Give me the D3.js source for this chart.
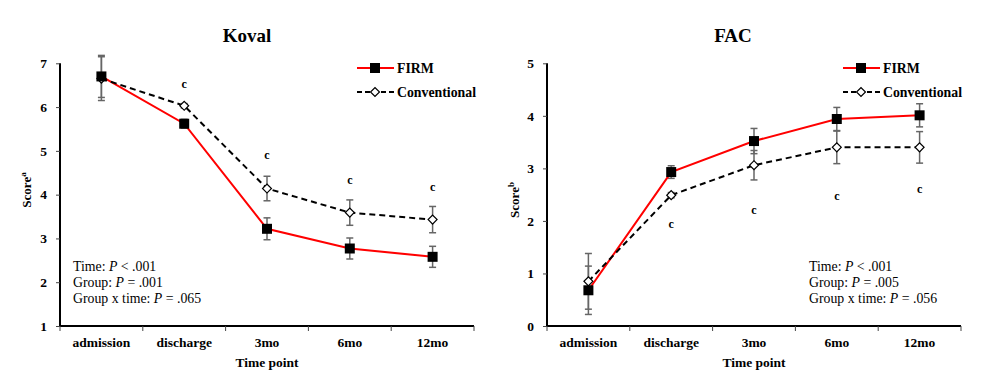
<!DOCTYPE html>
<html><head><meta charset="utf-8">
<script src="https://cdn.jsdelivr.net/npm/d3@7"></script>
<style>body{margin:0;background:#fff}svg{display:block}text{font-family:"Liberation Serif","Times New Roman",serif}</style>
</head><body><svg id="c" width="982" height="384"></svg>
<script>
const categories = ["admission","discharge","3mo","6mo","12mo"];
const kovalFirm = [6.70, 5.62, 3.22, 2.77, 2.58];
const kovalFirmErr = [0.48, 0.10, 0.25, 0.24, 0.24];
const kovalConv = [6.65, 6.03, 4.14, 3.59, 3.43];
const kovalConvErr = [0.50, 0.05, 0.28, 0.29, 0.30];
const kovalSigY = [null, 6.52, 4.90, 4.33, 4.18];
const kovalTicks = [1,2,3,4,5,6,7];
const kovalStats = [["Time: ","P"," < .001"],["Group: ","P"," = .001"],["Group x time: ","P"," = .065"]];

const facFirm = [0.68, 2.93, 3.52, 3.94, 4.01];
const facFirmErr = [0.46, 0.12, 0.24, 0.22, 0.22];
const facConv = [0.85, 2.49, 3.06, 3.40, 3.40];
const facConvErr = [0.53, 0.05, 0.28, 0.31, 0.30];
const facSigY = [null, 1.93, 2.21, 2.48, 2.60];
const facTicks = [0,1,2,3,4,5];
const facStats = [["Time: ","P"," < .001"],["Group: ","P"," = .005"],["Group x time: ","P"," = .056"]];

const svg = d3.select("#c");

function panel(o){
  const g = svg.append("g");
  const x = d3.scaleBand().domain(categories).range([o.x0, o.x1]);
  const y = d3.scaleLinear().domain(o.domain).range([326, 63.3]);
  g.append("text").attr("x", o.titleX).attr("y", 42).attr("text-anchor","middle")
   .attr("font-size",19).attr("font-weight","bold").text(o.title);
  const ya = g.append("g").attr("transform",`translate(${o.x0},0)`)
    .call(d3.axisLeft(y).tickValues(o.ticks).tickSize(4).tickPadding(9).tickFormat(d3.format("d")));
  ya.select(".domain").attr("stroke","#000").attr("stroke-width",2).attr("d",`M0,${y(o.domain[0])}V${y(o.domain[1])}`);
  ya.selectAll(".tick line").attr("stroke","#444");
  ya.selectAll("text").attr("font-size",13.5).attr("font-weight","bold");
  const xa = g.append("g").attr("transform",`translate(0,326)`)
    .call(d3.axisBottom(x).tickSize(0).tickPadding(11));
  xa.select(".domain").attr("stroke","#000").attr("stroke-width",2).attr("d",`M${o.x0},0H${o.x1}`);
  xa.selectAll("text").attr("font-size",13.5).attr("font-weight","bold");
  const bounds = [o.x0].concat(categories.map(c=>x(c)+x.bandwidth()));
  g.selectAll("line.xt").data(bounds).join("line").attr("class","xt")
   .attr("x1",d=>d).attr("x2",d=>d).attr("y1",326).attr("y2",331).attr("stroke","#444").attr("stroke-width",1);
  g.append("text").attr("x",(o.x0+o.x1)/2).attr("y",362).attr("dy","0.35em").attr("text-anchor","middle")
   .attr("font-size",13.5).attr("font-weight","bold").text("Time point");
  const yl = g.append("text").attr("transform",`translate(${o.ylX},${o.ylY}) rotate(-90)`)
   .attr("text-anchor","middle").attr("font-size",13).attr("font-weight","bold");
  yl.append("tspan").text("Score");
  yl.append("tspan").attr("font-size",9).attr("dy",-5).text(o.sup);
  const cx = c => x(c) + x.bandwidth()/2;
  const eb = (vals, errs) => {
    const gg = g.append("g").attr("stroke","#666").attr("stroke-width",1.5);
    categories.forEach((c,i)=>{
      const X = cx(c), t = y(vals[i]+errs[i]), b = y(vals[i]-errs[i]);
      gg.append("line").attr("x1",X).attr("x2",X).attr("y1",t).attr("y2",b);
      gg.append("line").attr("x1",X-3.5).attr("x2",X+3.5).attr("y1",t).attr("y2",t);
      gg.append("line").attr("x1",X-3.5).attr("x2",X+3.5).attr("y1",b).attr("y2",b);
    });
  };
  eb(o.firm, o.firmErr); eb(o.conv, o.convErr);
  const line = d3.line().x((d,i)=>cx(categories[i])).y(d=>y(d));
  g.append("path").attr("d",line(o.firm)).attr("fill","none").attr("stroke","#ff0000").attr("stroke-width",2);
  g.append("path").attr("d",line(o.conv)).attr("fill","none").attr("stroke","#000").attr("stroke-width",2).attr("stroke-dasharray","6,4");
  const sq = d3.symbol().type(d3.symbolSquare).size(100);
  const dm = d3.symbol().type(d3.symbolSquare).size(40);
  g.selectAll("path.cv").data(o.conv).join("path").attr("class","cv").attr("d",dm)
   .attr("transform",(d,i)=>`translate(${cx(categories[i])},${y(d)}) rotate(45)`).attr("fill","#fff").attr("stroke","#000").attr("stroke-width",1.2);
  g.selectAll("path.fm").data(o.firm).join("path").attr("class","fm").attr("d",sq)
   .attr("transform",(d,i)=>`translate(${cx(categories[i])},${y(d)})`).attr("fill","#000");
  o.sig.forEach((v,i)=>{ if(v==null) return;
    g.append("text").attr("x",cx(categories[i])).attr("y",y(v)).attr("dy","0.32em").attr("text-anchor","middle")
     .attr("font-size",12).attr("font-weight","bold").text("c"); });
  const lx = o.legX;
  g.append("line").attr("x1",lx).attr("x2",lx+37).attr("y1",68).attr("y2",68).attr("stroke","#ff0000").attr("stroke-width",2);
  g.append("path").attr("d",sq).attr("transform",`translate(${lx+18},68)`).attr("fill","#000");
  g.append("text").attr("x",lx+40).attr("y",68).attr("dy","0.35em").attr("font-size",13.8).attr("font-weight","bold").text("FIRM");
  g.append("line").attr("x1",lx).attr("x2",lx+37).attr("y1",92).attr("y2",92).attr("stroke","#000").attr("stroke-width",2).attr("stroke-dasharray","5,3");
  g.append("path").attr("d",dm).attr("transform",`translate(${lx+18},92) rotate(45)`).attr("fill","#fff").attr("stroke","#000").attr("stroke-width",1.2);
  g.append("text").attr("x",lx+40).attr("y",92).attr("dy","0.35em").attr("font-size",13.8).attr("font-weight","bold").text("Conventional");
  o.stats.forEach((s,i)=>{
    const t = g.append("text").attr("x",o.statX).attr("y",266+i*16).attr("dy","0.35em").attr("font-size",13.8);
    t.append("tspan").text(s[0]);
    t.append("tspan").attr("font-style","italic").text(s[1]);
    t.append("tspan").text(s[2]);
  });
}

panel({x0:60, x1:474, domain:[1,7], ticks:kovalTicks, title:"Koval", titleX:247,
  firm:kovalFirm, firmErr:kovalFirmErr, conv:kovalConv, convErr:kovalConvErr, sig:kovalSigY,
  legX:357, stats:kovalStats, statX:73, ylX:31, ylY:190, sup:"a"});
panel({x0:547, x1:961, domain:[0,5], ticks:facTicks, title:"FAC", titleX:733,
  firm:facFirm, firmErr:facFirmErr, conv:facConv, convErr:facConvErr, sig:facSigY,
  legX:843, stats:facStats, statX:809, ylX:519, ylY:200, sup:"b"});
</script></body></html>
